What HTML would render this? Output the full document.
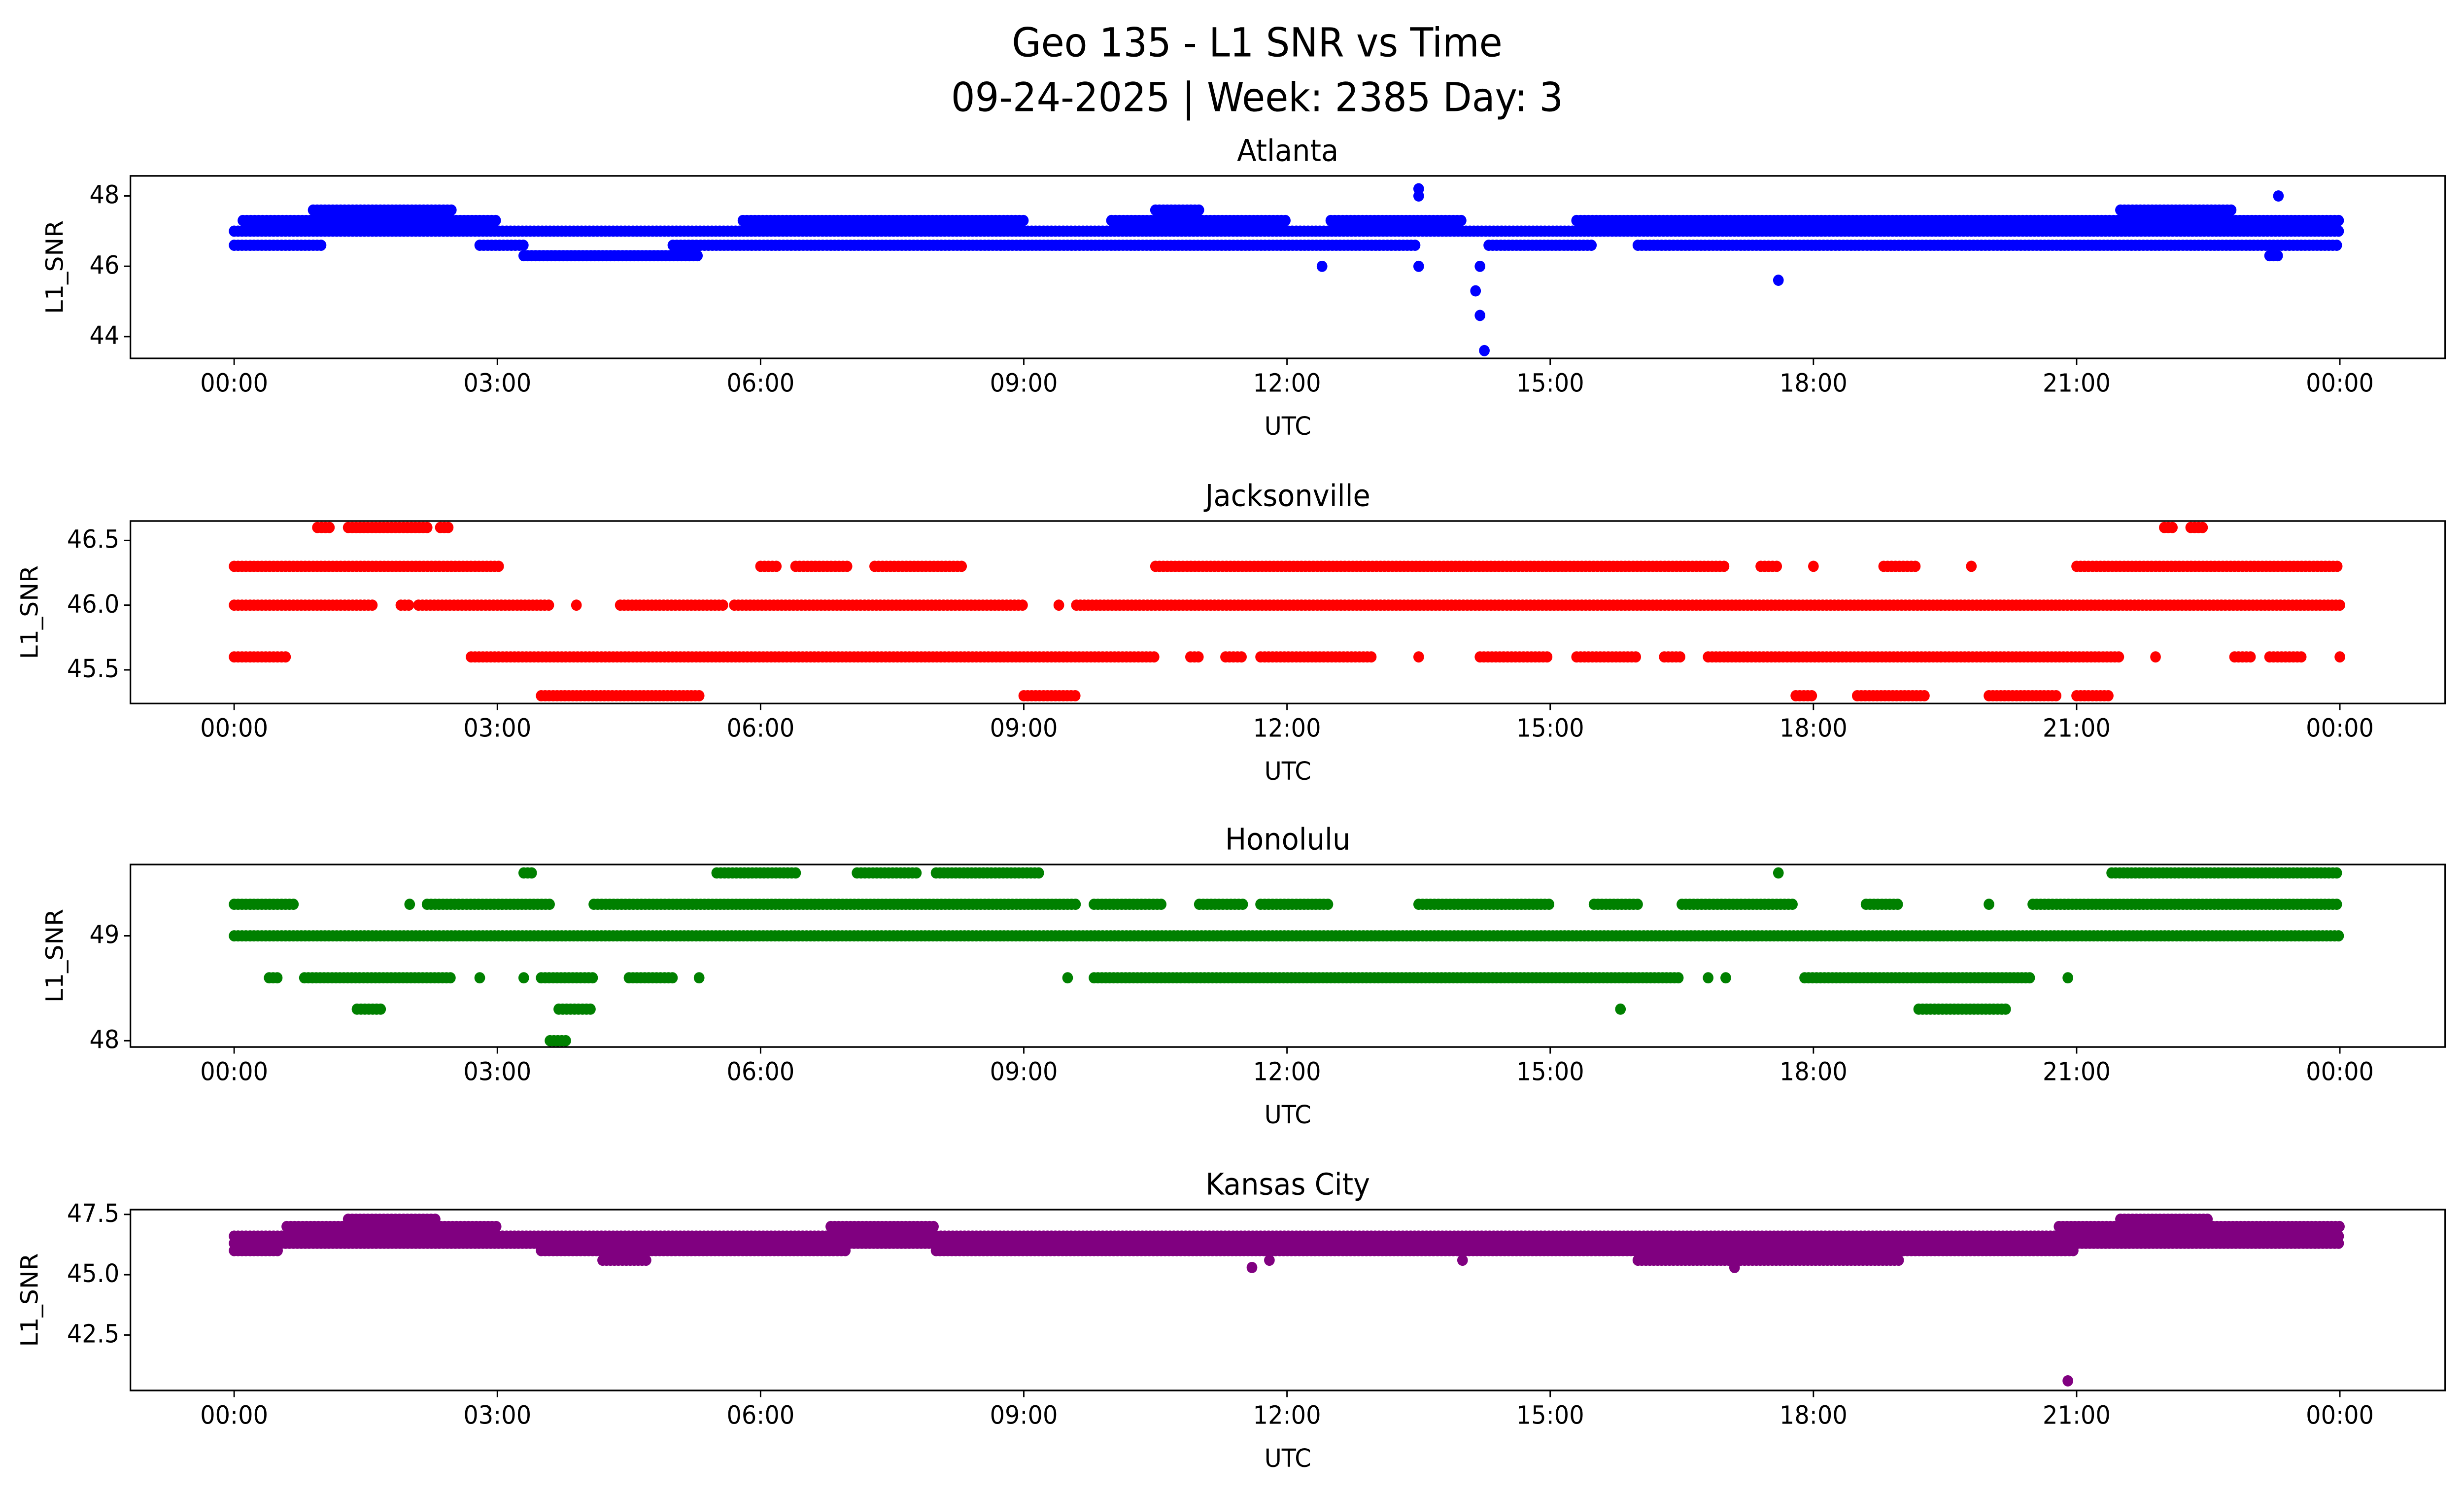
<!DOCTYPE html>
<html><head><meta charset="utf-8"><style>
html,body{margin:0;padding:0;background:#fff;width:100%;height:100%;overflow:hidden}
svg{position:absolute;left:0;top:0;width:100vw;height:100vh;display:block;font-family:"DejaVu Sans","Liberation Sans",sans-serif}
</style></head><body>
<svg id="root" viewBox="0 0 1568 901" preserveAspectRatio="none" xmlns="http://www.w3.org/2000/svg">
<rect width="1568" height="901" fill="#fff"/>
<g id="fig">
<text x="800" y="34" font-size="24" text-anchor="middle">Geo 135 - L1 SNR vs Time</text>
<text x="800" y="67" font-size="24" text-anchor="middle">09-24-2025 | Week: 2385 Day: 3</text>
</g>
</svg>
<script>
// ---- data: runs of samples (start hour, end hour, SNR value) ----
const xTickLabels = ["00:00","03:00","06:00","09:00","12:00","15:00","18:00","21:00","00:00"];
const xTickHours = [0,3,6,9,12,15,18,21,24];

const atlStart = [0,0.1,0.9,0,2.8,3.3,5.0,14.3,16.0,5.8,10.0,12.5,15.3,10.5,21.5,12.4,17.6,14.2,14.25,13.5,13.5,23.3,13.5,14.2,23.2,14.15];
const atlEnd   = [24,3.0,2.5,1.0,3.3,5.3,13.5,15.5,24,9.0,12.0,14.0,24,11.0,22.8,12.4,17.6,14.2,14.25,13.5,13.5,23.3,13.5,14.2,23.3,14.15];
const atlValue = [47.0,47.3,47.6,46.6,46.6,46.3,46.6,46.6,46.6,47.3,47.3,47.3,47.3,47.6,47.6,46.0,45.6,44.6,43.6,48.2,48.0,48.0,46.0,46.0,46.3,45.3];

const jaxStart = [0.95,1.3,2.35,22.0,22.3, 0,6.0,6.4,7.3,10.5,17.4,18.0,18.8,19.8,21.0, 0,1.9,2.1,3.9,4.4,5.7,9.4,9.6, 0,2.7,10.9,11.3,11.7,13.5,14.2,15.3,16.3,16.8,21.9,22.8,23.2,24, 3.5,9.0,17.8,18.5,20.0,21.0];
const jaxEnd   = [1.1,2.2,2.45,22.1,22.45, 3.05,6.2,7.0,8.3,17.0,17.6,18.0,19.2,19.8,24, 1.6,2.0,3.6,3.9,5.6,9.0,9.4,24, 0.6,10.5,11.0,11.5,13.0,13.5,15.0,16.0,16.5,21.5,21.9,23.0,23.6,24, 5.3,9.6,18.0,19.3,20.8,21.4];
const jaxValue = [46.6,46.6,46.6,46.6,46.6, 46.3,46.3,46.3,46.3,46.3,46.3,46.3,46.3,46.3,46.3, 46.0,46.0,46.0,46.0,46.0,46.0,46.0,46.0, 45.6,45.6,45.6,45.6,45.6,45.6,45.6,45.6,45.6,45.6,45.6,45.6,45.6,45.6, 45.3,45.3,45.3,45.3,45.3,45.3];

const hnlStart = [3.3,5.5,7.1,8.0,17.6,21.4, 0,2.0,2.2,4.1,9.8,11.0,11.7,13.5,15.5,16.5,18.6,20.0,20.5, 0, 0.4,0.8,2.8,3.3,3.5,4.5,5.3,9.5,9.8,16.8,17.0,17.9,20.9, 1.4,3.7,15.8,19.2, 3.6];
const hnlEnd   = [3.4,6.4,7.8,9.2,17.6,24, 0.7,2.0,3.6,9.6,10.6,11.5,12.5,15.0,16.0,17.8,19.0,20.0,24, 24, 0.5,2.5,2.8,3.3,4.1,5.0,5.3,9.5,16.5,16.8,17.0,20.5,20.9, 1.7,4.1,15.8,20.2, 3.8];
const hnlValue = [49.6,49.6,49.6,49.6,49.6,49.6, 49.3,49.3,49.3,49.3,49.3,49.3,49.3,49.3,49.3,49.3,49.3,49.3,49.3, 49.0, 48.6,48.6,48.6,48.6,48.6,48.6,48.6,48.6,48.6,48.6,48.6,48.6,48.6, 48.3,48.3,48.3,48.3, 48.0];

const kcStart = [0,0,0.6,6.8,20.8,1.3,21.5,0,3.5,8.0,4.2,14.0,16.0,11.6,11.8,17.1,20.9];
const kcEnd   = [24,24,3.0,8.0,24,2.3,22.5,0.5,7.0,21.0,4.7,14.0,19.0,11.6,11.8,17.1,20.9];
const kcValue = [46.6,46.3,47.0,47.0,47.0,47.3,47.3,46.0,46.0,46.0,45.6,45.6,45.6,45.3,45.6,45.3,40.6];

// ---- layout ----
const panels = [
 {name:"atlanta",title:"Atlanta",color:"#0000ff",top:106,bottom:216,ymin:43.38,ymax:48.57,ticks:[44,46,48],labels:["44","46","48"],s:atlStart,e:atlEnd,v:atlValue},
 {name:"jacksonville",title:"Jacksonville",color:"#ff0000",top:314,bottom:424,ymin:45.24,ymax:46.65,ticks:[45.5,46.0,46.5],labels:["45.5","46.0","46.5"],s:jaxStart,e:jaxEnd,v:jaxValue},
 {name:"honolulu",title:"Honolulu",color:"#008000",top:521,bottom:631,ymin:47.94,ymax:49.68,ticks:[48,49],labels:["48","49"],s:hnlStart,e:hnlEnd,v:hnlValue},
 {name:"kansas-city",title:"Kansas City",color:"#800080",top:729,bottom:838,ymin:40.2,ymax:47.7,ticks:[42.5,45.0,47.5],labels:["42.5","45.0","47.5"],s:kcStart,e:kcEnd,v:kcValue}
];
const L=83,R=1556,X0=149,X24=1489;
const NS="http://www.w3.org/2000/svg";
const fig=document.getElementById('fig');
function xs(h){return X0+(X24-X0)*h/24;}
function mk(tag,attrs,parent){const el=document.createElementNS(NS,tag);for(const k in attrs)el.setAttribute(k,attrs[k]);parent.appendChild(el);return el;}

panels.forEach(p=>{
 const ys=v=>p.bottom-(v-p.ymin)/(p.ymax-p.ymin)*(p.bottom-p.top);
 const g=mk('g',{},fig);
 
 
 const t=mk('text',{x:(L+R)/2,y:p.top-9,'font-size':18,'text-anchor':'middle'},g);
 t.textContent=p.title;
 
 
 const cg=mk('g',{fill:p.color},g);
 
 
 for(let i=0;i<p.s.length;i++){
  const y=ys(p.v[i]);
  for(let h=p.s[i];h<=p.e[i]+1e-9;h+=0.045){
   const c=mk('circle',{cx:xs(h).toFixed(1),cy:y.toFixed(1),r:3.4},cg);
   
   
  }
 }
 const fr=mk('rect',{x:L,y:p.top,width:R-L,height:p.bottom-p.top,fill:'none',stroke:'#000','stroke-width':1},g);
 
 
 xTickHours.forEach((h,i)=>{
  const x=xs(h);
  mk('line',{x1:x,x2:x,y1:p.bottom,y2:p.bottom+4,stroke:'#000','stroke-width':0.9},g);
  const tl=mk('text',{x:x,y:p.bottom+20,'font-size':15,'text-anchor':'middle'},g);
  tl.textContent=xTickLabels[i];
  
  
 });
 p.ticks.forEach((v,i)=>{
  const y=ys(v);
  mk('line',{x1:L-4,x2:L,y1:y,y2:y,stroke:'#000','stroke-width':0.9},g);
  const tl=mk('text',{x:L-7,y:y+4.5,'font-size':15,'text-anchor':'end'},g);
  tl.textContent=p.labels[i];
  
  
 });
 const xl=mk('text',{x:(L+R)/2,y:p.bottom+46,'font-size':15,'text-anchor':'middle'},g);
 xl.textContent='UTC';
 
 
 const ylx = p.labels[0].length>2 ? 24 : 40;
 const yl=mk('text',{x:ylx,y:(p.top+p.bottom)/2,'font-size':15,'text-anchor':'middle',transform:`rotate(-90 ${ylx} ${(p.top+p.bottom)/2})`},g);
 yl.textContent='L1_SNR';
 
 
});
</script>
</body></html>
